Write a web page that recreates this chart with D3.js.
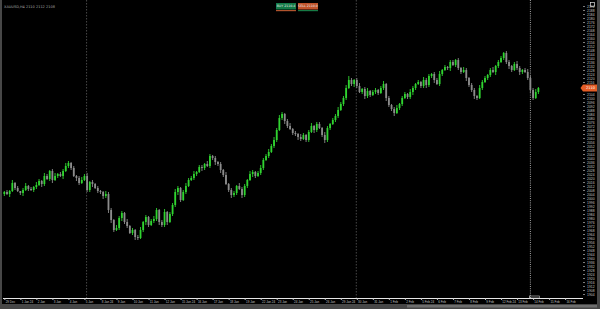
<!DOCTYPE html>
<html>
<head>
<meta charset="utf-8">
<script src="https://cdn.jsdelivr.net/npm/d3@7"></script>
<style>
  html, body { margin: 0; padding: 0; background: #474747; overflow: hidden; }
  #chart { width: 600px; height: 309px; }
</style>
</head>
<body>
<div id="chart"></div>
<script>
/* H4 candlestick chart, terminal style: black plot, price scale on the right. */

var firstOpen = 2004;
var closes = [
  2006, 2004, 2007, 2015, 2010, 2007, 2005, 2008, 2012, 2009,
  2008, 2011, 2013, 2017, 2014, 2022, 2019, 2027, 2018, 2022,
  2024, 2022, 2027, 2032, 2035, 2030, 2022, 2020, 2015, 2018,
  2022, 2008, 2016, 2014, 2010, 2007, 2006, 2002, 2004, 1988,
  1978, 1968, 1970, 1980, 1985, 1976, 1972, 1965, 1968, 1961,
  1960, 1968, 1976, 1981, 1973, 1977, 1979, 1988, 1976, 1973,
  1986, 1976, 1984, 1993, 2006, 2010, 1998, 2006, 2012, 2018,
  2020, 2024, 2026, 2031, 2030, 2034, 2032, 2042, 2040, 2036,
  2034, 2028, 2023, 2014, 2008, 2003, 2005, 2012, 2009, 2003,
  2012, 2018, 2024, 2026, 2022, 2025, 2030, 2038, 2042, 2046,
  2052, 2058, 2068, 2080, 2084, 2077, 2072, 2069, 2065, 2064,
  2061, 2059, 2063, 2058, 2066, 2072, 2068, 2074, 2070, 2063,
  2058, 2070, 2074, 2078, 2082, 2088, 2094, 2100, 2110, 2118,
  2114, 2118, 2112, 2106, 2109, 2102, 2107, 2103, 2106, 2108,
  2105, 2110, 2114, 2100, 2093, 2089, 2085, 2090, 2094, 2100,
  2104, 2101, 2106, 2110, 2114, 2116, 2112, 2118, 2113, 2122,
  2124, 2118, 2114, 2124, 2128, 2131, 2130, 2136, 2133, 2138,
  2130, 2126, 2128, 2120, 2113, 2108, 2102, 2100, 2110, 2116,
  2120, 2123, 2128, 2126, 2132, 2136, 2140, 2145, 2136, 2132,
  2128, 2134, 2130, 2126, 2128, 2126, 2120, 2108, 2100, 2106, 2110
];
// wick lengths above the body top and below the body bottom (price units)
var wickUp = [
  1,2,1,3,1,2,0,2,3,1, 2,1,3,2,1,3,2,1,2,3, 1,2,2,3,2,1,2,1,2,3, 2,3,1,2,1,2,1,1,3,2,
  2,1,3,2,2,1,3,1,2,1, 2,3,1,2,1,2,3,2,1,2, 3,1,2,2,3,2,1,2,3,2, 2,3,1,2,2,1,3,2,1,2,
  1,2,1,3,1,2,2,1,3,2, 2,1,3,2,1,2,3,2,2,3, 2,3,2,3,2,1,2,3,1,2, 1,3,2,1,2,3,1,2,2,1,
  3,2,1,2,2,3,2,2,3,4, 2,1,2,3,1,2,3,1,2,2, 1,2,3,1,2,1,2,3,1,2, 2,1,3,2,1,2,1,3,2,2,
  1,2,2,3,1,2,1,2,2,1, 2,1,3,2,1,2,2,1,3,2, 2,1,2,3,1,2,2,1,2,2, 1,2,3,2,1,2,3,2,2,3,1
];
var wickDown = [
  2,1,3,1,2,1,2,3,1,2, 1,2,2,1,3,2,1,2,3,1, 2,1,3,1,2,2,1,3,2,1, 1,2,2,3,1,2,2,3,2,3,
  3,2,1,2,3,2,2,1,2,3, 2,1,2,3,2,1,2,2,3,2, 2,3,1,2,2,3,2,1,2,1, 1,2,2,1,3,2,1,2,2,3,
  2,3,2,1,2,3,2,2,1,3, 2,2,1,3,2,1,2,2,1,2, 1,2,2,1,2,3,2,1,2,2, 3,2,1,2,2,1,3,2,1,2,
  3,2,2,1,2,2,1,2,2,1, 2,3,2,1,2,3,2,2,1,2, 2,1,2,3,2,2,3,1,2,2, 1,2,2,3,2,1,2,2,3,2,
  2,3,1,2,2,1,2,3,1,2, 2,2,1,3,2,2,3,2,1,2, 1,2,2,1,3,2,1,2,2,3, 2,1,2,3,2,1,2,3,2,1,2
];
var dayLabels = [
  "29 Dec", "1 Jan 24", "2 Jan", "3 Jan", "4 Jan", "5 Jan",
  "8 Jan 24", "9 Jan", "10 Jan", "11 Jan", "12 Jan",
  "15 Jan 24", "16 Jan", "17 Jan", "18 Jan", "19 Jan",
  "22 Jan 24", "23 Jan", "24 Jan", "25 Jan", "26 Jan",
  "29 Jan 24", "30 Jan", "31 Jan", "1 Feb", "2 Feb",
  "5 Feb 24", "6 Feb", "7 Feb", "8 Feb", "9 Feb",
  "12 Feb 24", "13 Feb", "14 Feb", "15 Feb", "16 Feb"
];
var barsPerDay = 6;
var periodBreaks = [30.8, 131.8];   // candle index of the separators
var crosshairAt = 197;
var emptyBars = 16;
var titleText = "XAUUSD,H4 2110 2112 2108";
var tradeButtons = ["BUY 2110.4", "SELL 2110.0"];

var W = 600, H = 309;
var plot = { left: 3, right: 583, top: 0, bottom: 298 };

var svg = d3.select("#chart").append("svg")
  .attr("width", W).attr("height", H)
  .attr("viewBox", "0 0 " + W + " " + H)
  .style("display", "block")
  .style("font-family", "'DejaVu Sans', sans-serif");

// frame
svg.append("rect").attr("width", W).attr("height", H).attr("fill", "#474747");
svg.append("rect").attr("x", 2).attr("y", 0).attr("width", 595).attr("height", 304).attr("fill", "#000");
svg.append("rect").attr("x", 407).attr("y", 305).attr("width", 190).attr("height", 2.5).attr("fill", "#6e6e6e");

var n = closes.length;
var opens = [firstOpen].concat(closes.slice(0, n - 1));
var bars = closes.map(function (c, i) {
  var o = opens[i];
  return { i: i, o: o, c: c, h: Math.max(o, c) + wickUp[i], l: Math.min(o, c) - wickDown[i] };
});

var x = d3.scaleLinear().domain([-0.5, n - 1 + emptyBars + 0.7]).range([plot.left, plot.right]);
var y = d3.scaleLinear().domain([1900, 2195]).range([plot.bottom, 3]);

// separators and crosshair
svg.append("g").selectAll("line").data(periodBreaks).enter().append("line")
  .attr("x1", function (d) { return x(d); }).attr("x2", function (d) { return x(d); })
  .attr("y1", 0).attr("y2", plot.bottom)
  .attr("stroke", "#5a5a5a").attr("stroke-width", 0.8).attr("stroke-dasharray", "1.5,1.5");
svg.append("line")
  .attr("x1", x(crosshairAt)).attr("x2", x(crosshairAt))
  .attr("y1", 0).attr("y2", plot.bottom)
  .attr("stroke", "#d0d0d0").attr("stroke-width", 0.8).attr("stroke-dasharray", "1,1.2");

// candles
var up = "#30d430", down = "#8c8c8c";
var cg = svg.append("g");
var candle = cg.selectAll("g").data(bars).enter().append("g");
candle.append("line")
  .attr("x1", function (d) { return x(d.i); }).attr("x2", function (d) { return x(d.i); })
  .attr("y1", function (d) { return y(d.h); }).attr("y2", function (d) { return y(d.l); })
  .attr("stroke", function (d) { return d.c >= d.o ? up : down; })
  .attr("stroke-width", 0.9);
candle.append("rect")
  .attr("x", function (d) { return x(d.i) - 0.9; })
  .attr("width", 1.8)
  .attr("y", function (d) { return y(Math.max(d.o, d.c)); })
  .attr("height", function (d) { return Math.max(0.8, Math.abs(y(d.o) - y(d.c))); })
  .attr("fill", function (d) { return d.c >= d.o ? up : down; });

// price scale (labels next to the current-price tag are hidden behind it)
var last = bars[n - 1].c;
var priceTicks = d3.range(1904, 2195, 4).filter(function (v) { return Math.abs(v - last) > 4; });
var yAxis = svg.append("g").attr("transform", "translate(" + plot.right + ",0)")
  .call(d3.axisRight(y).tickValues(priceTicks).tickSize(2).tickPadding(2).tickFormat(d3.format("d")));
yAxis.select(".domain").remove();
yAxis.selectAll(".tick line").attr("stroke", "#9a9a9a").attr("stroke-width", 0.8);
yAxis.selectAll(".tick text").attr("fill", "#c4c4c4").attr("font-size", 3.4);

// time scale
svg.append("line").attr("x1", plot.left).attr("x2", plot.right)
  .attr("y1", plot.bottom + 0.5).attr("y2", plot.bottom + 0.5)
  .attr("stroke", "#e6e6e6").attr("stroke-width", 1);
var xAxis = svg.append("g").attr("transform", "translate(0," + (plot.bottom + 0.5) + ")")
  .call(d3.axisBottom(x)
    .tickValues(dayLabels.map(function (_d, k) { return k * barsPerDay; }))
    .tickSize(1.5).tickPadding(0.6)
    .tickFormat(function (d) { return dayLabels[d / barsPerDay]; }));
xAxis.select(".domain").remove();
xAxis.selectAll(".tick line").attr("stroke", "#bbb");
xAxis.selectAll(".tick text").attr("fill", "#c4c4c4").attr("font-size", 3)
  .attr("text-anchor", "start").attr("dx", 0.8);

// crosshair time tag
svg.append("rect").attr("x", x(crosshairAt) - 1).attr("y", plot.bottom - 2)
  .attr("width", 10).attr("height", 2).attr("fill", "none")
  .attr("stroke", "#cfcfcf").attr("stroke-width", 0.6);

// current price tag
var py = y(last);
svg.append("path")
  .attr("d", "M" + (plot.right - 2.5) + "," + py + "L" + plot.right + "," + (py - 3.5) +
    "H597V" + (py + 3.5) + "H" + plot.right + "Z")
  .attr("fill", "#e45d26");
svg.append("text").attr("x", plot.right + 3).attr("y", py + 1.2)
  .attr("fill", "#fff").attr("font-size", 3.6).text(d3.format("d")(last));

// title
svg.append("text").attr("x", 4).attr("y", 7.5).attr("fill", "#a8a8a8")
  .attr("font-size", 3.5).text(titleText);

// one-click trade buttons
var btnColors = ["#137a47", "#c0532b"];
var lineColors = ["#b0532d", "#167a45"];
tradeButtons.forEach(function (t, k) {
  var bx = 276 + k * 22;
  svg.append("rect").attr("x", bx).attr("y", 3).attr("width", 20).attr("height", 6.5).attr("fill", btnColors[k]);
  svg.append("rect").attr("x", bx).attr("y", 10).attr("width", 20).attr("height", 1.2).attr("fill", lineColors[k]);
  svg.append("text").attr("x", bx + 10).attr("y", 7.3).attr("text-anchor", "middle")
    .attr("fill", "#e8e8e8").attr("font-size", 3.2).text(t);
});

// corner icon
svg.append("rect").attr("x", 590.5).attr("y", 2.5).attr("width", 4).attr("height", 4)
  .attr("fill", "none").attr("stroke", "#ddd").attr("stroke-width", 0.7);
</script>
</body>
</html>
